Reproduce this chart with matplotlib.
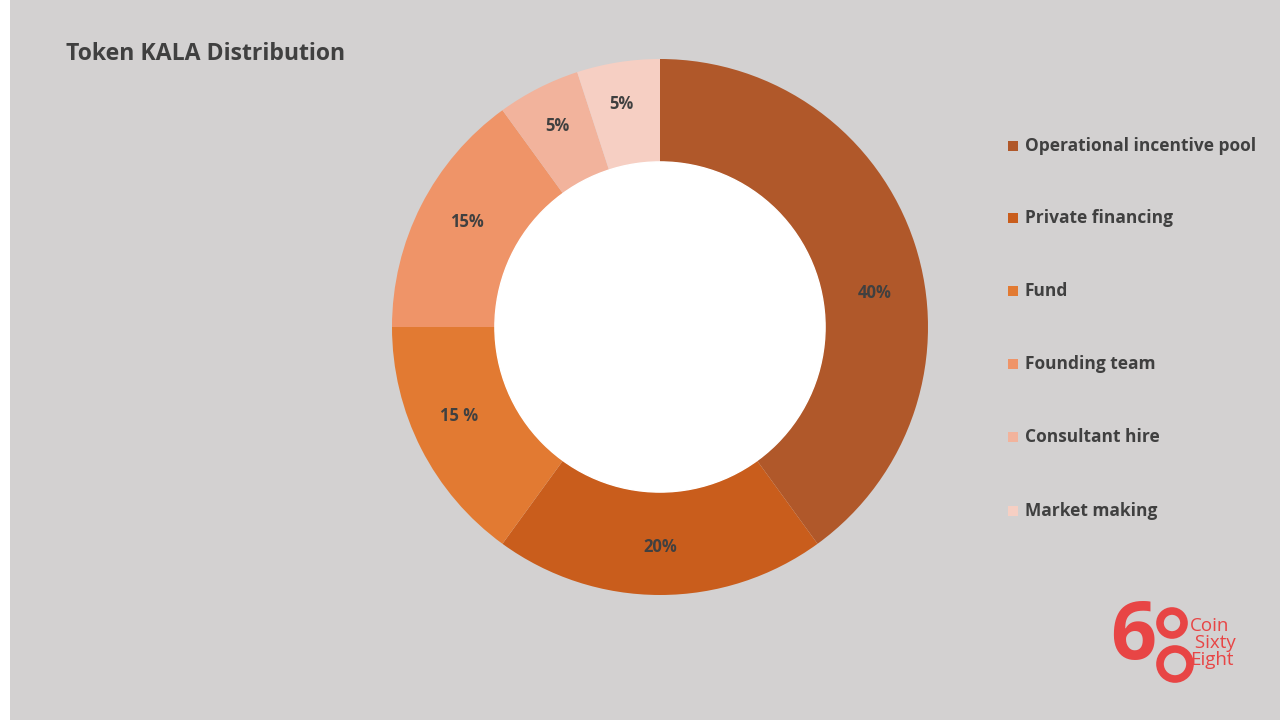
import matplotlib.pyplot as plt
from matplotlib.patches import Ellipse
import numpy as np

categories = ["Operational incentive pool", "Private financing", "Fund",
              "Founding team", "Consultant hire", "Market making"]
values = [40, 20, 15, 15, 5, 5]
pct_labels = ["40%", "20%", "15 %", "15%", "5%", "5%"]
colors = ["#b0582a", "#c95d1c", "#e27a32", "#ef9468", "#f2b39c", "#f6cfc3"]

BG = "#d3d1d1"
fig = plt.figure(figsize=(12.8, 7.2), dpi=100)
fig.patch.set_facecolor("white")
fig.add_artist(plt.Rectangle((10 / 1280, 0), 1, 1, transform=fig.transFigure,
                             facecolor=BG, edgecolor="none", zorder=-10))

fig.text(66 / 1280, 1 - 54 / 720, "Token KALA Distribution", fontsize=16.6,
         fontweight="bold", color="#404040", va="center", family="Open Sans")

cx, cy, r = 660 / 1280, 1 - 327 / 720, 268
ax = fig.add_axes([cx - r / 1280, cy - r / 720, 2 * r / 1280, 2 * r / 720])
wedges, _ = ax.pie(values, colors=colors, startangle=90, counterclock=False,
                   radius=1, wedgeprops=dict(width=0.384, edgecolor="none"))
ax.add_patch(plt.Circle((0, 0), 0.616, color="white", zorder=5))
ax.set_xlim(-1, 1)
ax.set_ylim(-1, 1)
ax.set_aspect("auto")
ax.axis("off")

# labels in the reference sit a bit off the wedge middles
offsets = [-9, 0, -3, -1.5, 0, 0.7]
radii = [0.81, 0.82, 0.82, 0.82, 0.84, 0.845]
for w, lab, off, rr in zip(wedges, pct_labels, offsets, radii):
    ang = np.deg2rad((w.theta1 + w.theta2) / 2 + off)
    ax.text(rr * np.cos(ang), rr * np.sin(ang), lab, ha="center", va="center",
            fontsize=12, fontweight="bold", color="#404040", family="Open Sans", zorder=6)

ys = [146, 218, 291, 364, 437, 511]
for cat, col, y in zip(categories, colors, ys):
    fy = 1 - y / 720
    fig.add_artist(plt.Rectangle((1008 / 1280, fy - 5 / 720), 10 / 1280, 10 / 720,
                                 transform=fig.transFigure, facecolor=col, edgecolor="none"))
    fig.text(1025 / 1280, fy, cat, fontsize=12.5, fontweight="bold", color="#404040",
             va="center", family="Open Sans")

# logo
red = "#e84545"
fig.text(1133 / 1280, 1 - 638 / 720, "6", fontsize=58, fontweight="bold",
         color=red, ha="center", va="center", family="Open Sans")
for (px, py, pr) in [(1172, 623, 12), (1175, 664, 15)]:
    fig.add_artist(Ellipse((px / 1280, 1 - py / 720), 2 * pr / 1280, 2 * pr / 720,
                           transform=fig.transFigure, facecolor="none",
                           edgecolor=red, linewidth=5.5))
fig.text(1190 / 1280, 1 - 643 / 720, "Coin\n Sixty\nEight", fontsize=13.5,
         color=red, ha="left", va="center", linespacing=0.9, family="Open Sans")

fig.savefig("out.png", dpi=100, facecolor=fig.get_facecolor())
